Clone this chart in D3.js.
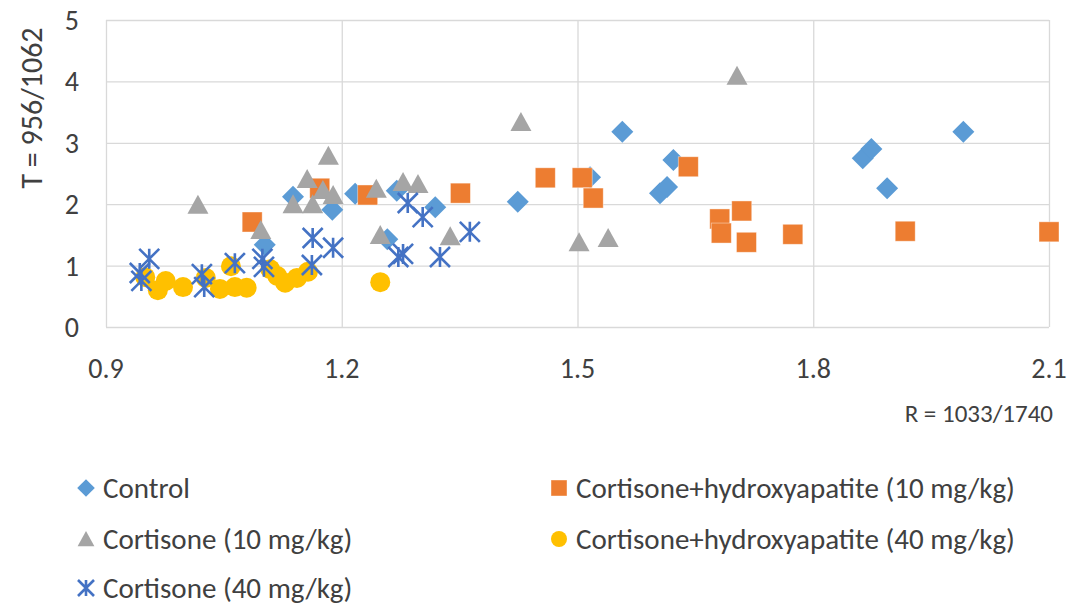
<!DOCTYPE html>
<html>
<head>
<meta charset="utf-8">
<script src="https://cdn.jsdelivr.net/npm/d3@7.9.0/dist/d3.min.js"></script>
<style>
  body { margin: 0; background: #fff; }
  svg text { font-family: Carlito, "Liberation Sans", Arial, sans-serif; fill: #404040; }
</style>
</head>
<body>
<svg id="chart" width="1083" height="606"></svg>
<script>
// [R, T] pairs
const control = [
  [1.102, 1.34], [1.138, 2.12], [1.188, 1.91], [1.217, 2.17], [1.258, 1.43],
  [1.270, 2.22], [1.319, 1.95], [1.424, 2.04], [1.516, 2.44], [1.557, 3.18],
  [1.622, 2.72], [1.605, 2.18], [1.614, 2.28], [1.863, 2.75], [1.874, 2.90],
  [1.894, 2.26], [1.991, 3.18]
];
const cortHa10 = [
  [1.086, 1.71], [1.172, 2.26], [1.233, 2.15], [1.351, 2.18], [1.459, 2.43],
  [1.506, 2.43], [1.520, 2.10], [1.641, 2.61], [1.681, 1.76], [1.683, 1.53],
  [1.709, 1.89], [1.715, 1.38], [1.774, 1.51], [1.917, 1.56], [2.100, 1.55]
];
const cort10 = [
  [1.017, 1.99], [1.097, 1.58], [1.138, 2.00], [1.156, 2.41], [1.163, 2.00],
  [1.176, 2.23], [1.189, 2.15], [1.183, 2.79], [1.244, 2.25], [1.278, 2.36],
  [1.297, 2.33], [1.249, 1.50], [1.338, 1.48], [1.428, 3.34], [1.502, 1.38],
  [1.539, 1.45], [1.703, 4.09]
];
const cortHa40 = [
  [0.950, 0.81], [0.966, 0.60], [0.976, 0.75], [0.998, 0.65], [1.027, 0.80],
  [1.045, 0.62], [1.064, 0.65], [1.079, 0.64], [1.059, 0.99], [1.109, 0.94],
  [1.118, 0.83], [1.128, 0.72], [1.143, 0.80], [1.157, 0.90], [1.249, 0.73]
];
const cort40 = [
  [0.943, 0.88], [0.945, 0.75], [0.955, 1.11], [1.022, 0.86], [1.025, 0.65],
  [1.064, 1.04], [1.099, 1.11], [1.101, 0.98], [1.162, 1.01], [1.163, 1.45],
  [1.189, 1.29], [1.272, 1.14], [1.278, 1.19], [1.284, 2.02], [1.303, 1.79],
  [1.325, 1.14], [1.363, 1.55]
];

const xTicks = [0.9, 1.2, 1.5, 1.8, 2.1];
const yTicks = [0, 1, 2, 3, 4, 5];

const series = [
  { name: "Control", data: control, shape: "diamond", color: "#5B9BD5" },
  { name: "Cortisone+hydroxyapatite (10 mg/kg)", data: cortHa10, shape: "square", color: "#ED7D31" },
  { name: "Cortisone (10 mg/kg)", data: cort10, shape: "triangle", color: "#A5A5A5" },
  { name: "Cortisone+hydroxyapatite (40 mg/kg)", data: cortHa40, shape: "circle", color: "#FFC000" },
  { name: "Cortisone (40 mg/kg)", data: cort40, shape: "star", color: "#4472C4" }
];

const svg = d3.select('#chart');

const x = d3.scaleLinear().domain([0.9, 2.1]).range([106, 1049]);
const y = d3.scaleLinear().domain([0, 5]).range([327, 20]);

// gridlines
svg.append('g')
  .attr('transform', 'translate(0,327)')
  .call(d3.axisBottom(x).tickValues(xTicks).tickSize(-307).tickFormat(''))
  .call(g => g.select('.domain').remove())
  .call(g => g.selectAll('line').attr('stroke', '#d9d9d9').attr('stroke-width', 1.3));

svg.append('g')
  .attr('transform', 'translate(106,0)')
  .call(d3.axisLeft(y).tickValues(yTicks).tickSize(-943).tickFormat(''))
  .call(g => g.select('.domain').remove())
  .call(g => g.selectAll('line').attr('stroke', '#d9d9d9').attr('stroke-width', 1.3));

// tick labels
svg.append('g').selectAll('text')
  .data(xTicks).join('text')
  .attr('x', d => x(d)).attr('y', 378)
  .attr('text-anchor', 'middle')
  .style('font-size', '28px')
  .text(d => d3.format('.1f')(d));

svg.append('g').selectAll('text')
  .data(yTicks).join('text')
  .attr('x', 79).attr('y', d => y(d) + 10)
  .attr('text-anchor', 'end')
  .style('font-size', '28px')
  .text(d => d);

// axis titles
svg.append('text')
  .attr('x', 1053).attr('y', 422)
  .attr('text-anchor', 'end')
  .style('font-size', '25px')
  .text('R = 1033/1740');

svg.append('text')
  .attr('transform', 'translate(42,108) rotate(-90)')
  .attr('text-anchor', 'middle')
  .style('font-size', '30px')
  .text('T = 956/1062');

// marker drawing, s = nominal marker size in px
function drawMarker(g, shape, color, s) {
  const h = s / 2;
  if (shape === 'diamond') {
    const a = h * 1.1;
    g.append('path').attr('d', `M0,${-a}L${a},0L0,${a}L${-a},0Z`).attr('fill', color);
  } else if (shape === 'square') {
    g.append('rect').attr('x', -h).attr('y', -h).attr('width', 2 * h).attr('height', 2 * h)
      .attr('fill', color).attr('stroke', '#fff').attr('stroke-opacity', 0.5).attr('stroke-width', 0.8);
  } else if (shape === 'triangle') {
    g.append('path').attr('d', `M0,${-h}L${h * 1.05},${h * 0.9}L${-h * 1.05},${h * 0.9}Z`).attr('fill', color);
  } else if (shape === 'circle') {
    g.append('circle').attr('r', h).attr('fill', color);
  } else if (shape === 'star') {
    g.append('path')
      .attr('d', `M0,${-h}L0,${h}M${-h},${-h}L${h},${h}M${h},${-h}L${-h},${h}`)
      .attr('stroke', color).attr('stroke-width', 2.6).attr('fill', 'none');
  }
}

series.forEach(s => {
  const layer = svg.append('g');
  s.data.forEach(([r, t]) => {
    const g = layer.append('g').attr('transform', `translate(${x(r)},${y(t)})`);
    drawMarker(g, s.shape, s.color, 20);
  });
});

// legend
const legendPos = [[86, 488], [559, 488], [86, 539], [559, 539], [86, 588]];
series.forEach((s, i) => {
  const [lx, ly] = legendPos[i];
  const g = svg.append('g').attr('transform', `translate(${lx},${ly})`);
  drawMarker(g, s.shape, s.color, 16);
  g.append('text')
    .attr('x', 17).attr('y', 10)
    .style('font-size', '29px')
    .text(s.name);
});
</script>
</body>
</html>
